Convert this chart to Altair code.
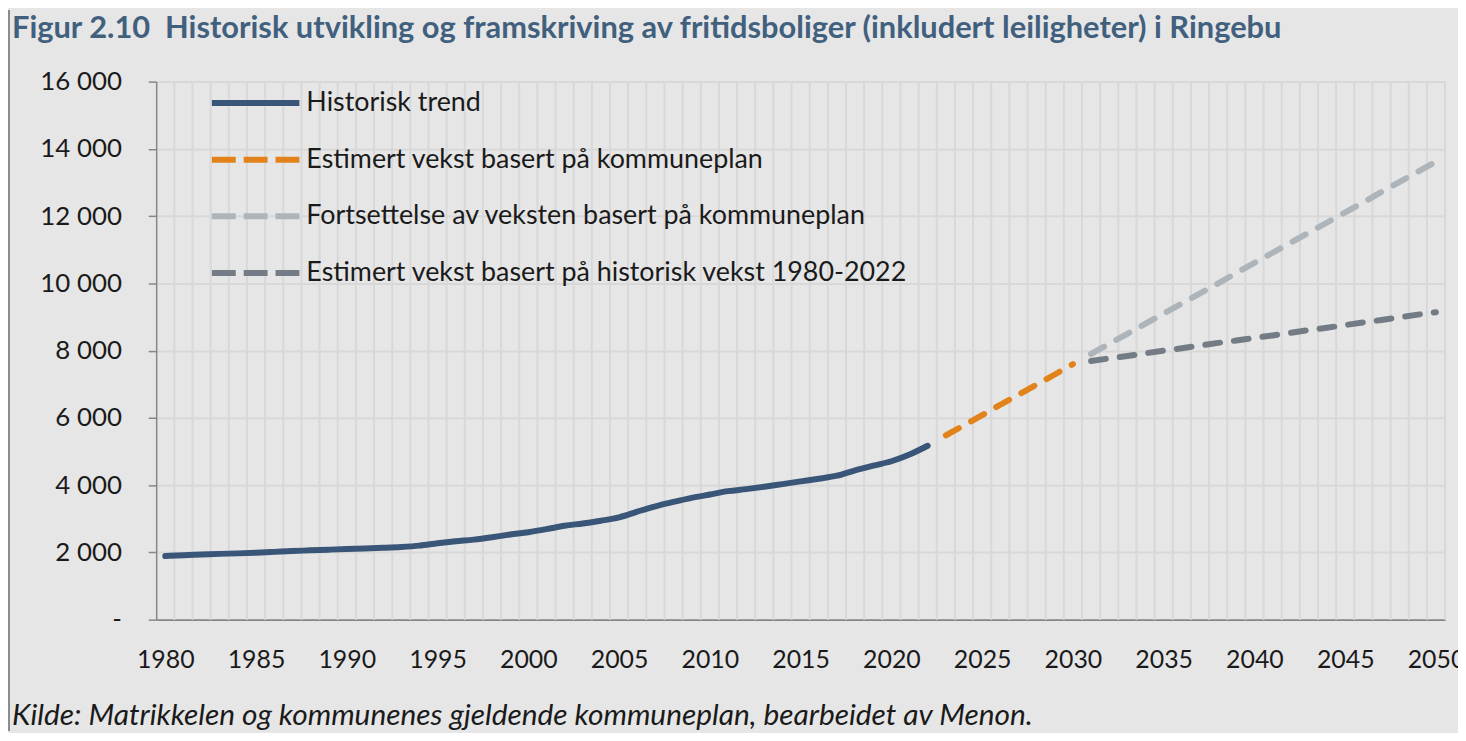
import altair as alt
import pandas as pd

title_text = "Figur 2.10  Historisk utvikling og framskriving av fritidsboliger (inkludert leiligheter) i Ringebu"
source_text = "Kilde: Matrikkelen og kommunenes gjeldende kommuneplan, bearbeidet av Menon."

series_names = [
    "Historisk trend",
    "Estimert vekst basert på kommuneplan",
    "Fortsettelse av veksten basert på kommuneplan",
    "Estimert vekst basert på historisk vekst 1980-2022",
]
series_colors = ["#395577", "#e2821a", "#adb4ba", "#737c84"]

hist_years = list(range(1980, 2023))
hist_values = [
    1890, 1915, 1935, 1955, 1970, 1990, 2015, 2040, 2060, 2080,
    2100, 2115, 2135, 2160, 2200, 2270, 2330, 2380, 2450, 2530,
    2600, 2690, 2790, 2860, 2940, 3040, 3210, 3370, 3500, 3620,
    3720, 3820, 3880, 3950, 4030, 4110, 4190, 4280, 4440, 4580,
    4710, 4910, 5170,
]
plan_years = list(range(2023, 2031))
plan_values = [5480, 5780, 6080, 6390, 6690, 6990, 7290, 7600]
cont_years = list(range(2031, 2051))
cont_values = [
    7900, 8200, 8500, 8800, 9100, 9400, 9700, 10000, 10310, 10610,
    10910, 11210, 11510, 11810, 12110, 12410, 12720, 13020, 13320, 13620,
]
hgrowth_years = list(range(2031, 2051))
hgrowth_values = [
    7690, 7770, 7840, 7920, 8000, 8070, 8150, 8230, 8300, 8380,
    8450, 8530, 8610, 8680, 8760, 8840, 8910, 8990, 9070, 9140,
]

all_years = list(range(1980, 2051))
x_tick_years = [1980, 1985, 1990, 1995, 2000, 2005, 2010, 2015, 2020, 2025, 2030, 2035, 2040, 2045, 2050]
y_ticks = [0, 2000, 4000, 6000, 8000, 10000, 12000, 14000, 16000]

rows = []
for name, ys, vs in zip(series_names,
                        [hist_years, plan_years, cont_years, hgrowth_years],
                        [hist_values, plan_values, cont_values, hgrowth_values]):
    for yr, v in zip(ys, vs):
        rows.append({"year": yr, "value": v, "series": name})
df = pd.DataFrame(rows)

FONT = "Lato"
W, H = 1296, 541

xscale = alt.Scale(domain=[1979.5, 2050.5], nice=False, zero=False)
yscale = alt.Scale(domain=[0, 16000], nice=False)

x_axis = alt.Axis(values=x_tick_years, format="d", labelFont=FONT, labelFontSize=25,
                  labelColor="#1a1a1a", labelPadding=28, ticks=False, domainColor="#878787",
                  domainWidth=2, grid=False, title=None, labelFlush=False, labelOverlap=False)
y_axis = alt.Axis(values=y_ticks,
                  labelExpr="datum.value == 0 ? '-\u00a0\u00a0\u00a0' : replace(format(datum.value, ','), ',', ' ')",
                  labelFont=FONT, labelFontSize=26, labelColor="#1a1a1a", labelPadding=27,
                  tickSize=8, tickColor="#878787", tickWidth=1.5, domainColor="#878787",
                  domainWidth=1.5, grid=True, gridColor="#d8d8d8", gridWidth=2, title=None)

x_enc = alt.X("year:Q", scale=xscale, axis=x_axis)
y_enc = alt.Y("value:Q", scale=yscale, axis=y_axis)

# vertical gridlines at category boundaries
vgrid = alt.Chart(pd.DataFrame({"year": [y + 0.5 for y in all_years]})).mark_rule(
    color="#d8d8d8", strokeWidth=2
).encode(x=x_enc)

dashes = [None, [15, 14], [15, 14], [15, 14]]
line_layers = []
for name, col, dash in zip(series_names, series_colors, dashes):
    kw = dict(color=col, strokeWidth=6, strokeCap="round", strokeJoin="round")
    if dash is None:
        kw["interpolate"] = "monotone"
    else:
        kw["strokeDash"] = dash
    line_layers.append(
        alt.Chart(df).transform_filter(alt.datum.series == name).mark_line(**kw).encode(x=x_enc, y=y_enc)
    )

leg = alt.Legend(orient="none", legendX=53, legendY=-7, title=None, symbolType="stroke",
                 symbolSize=7744, symbolStrokeWidth=6, labelFont=FONT, labelFontSize=27,
                 labelColor="#1a1a1a", labelOffset=4, clipHeight=57, rowPadding=0, padding=0,
                 labelLimit=1000)
legend_layer = alt.Chart(df).transform_filter("false").mark_line(strokeWidth=6).encode(
    x=x_enc, y=y_enc,
    color=alt.Color("series:N", scale=alt.Scale(domain=series_names, range=series_colors), legend=leg),
    strokeDash=alt.StrokeDash("series:N", scale=alt.Scale(domain=series_names,
                              range=[[1, 0], [24, 8], [24, 8], [24, 8]]), legend=leg),
)

title_layer = alt.Chart(pd.DataFrame({"t": [title_text.replace("  ", "\u00a0 ")]})).mark_text(
    align="left", baseline="alphabetic", font=FONT, fontWeight="bold", fontSize=31, color="#41607e"
).encode(x=alt.value(-145), y=alt.value(-44), text="t:N")

footer_layer = alt.Chart(pd.DataFrame({"t": [source_text]})).mark_text(
    align="left", baseline="alphabetic", font=FONT, fontStyle="italic", fontSize=30, color="#1a1a1a"
).encode(x=alt.value(-145), y=alt.value(647), text="t:N")

border = alt.Chart(pd.DataFrame({"k": [0]})).mark_rule(color="#8c8c8c", strokeWidth=2).encode(
    x=alt.value(-148), y=alt.value(-72), y2=alt.value(H + 112)
)

chart = alt.layer(vgrid, *line_layers, legend_layer, title_layer, footer_layer, border).properties(
    width=W, height=H,
    autosize=alt.AutoSizeParams(type="none"),
    padding={"left": 149, "top": 72, "right": 13, "bottom": 112},
    background="#e6e6e6",
).configure_view(stroke=None)

chart.save("out.html", embed_options={"renderer": "svg", "actions": False})
